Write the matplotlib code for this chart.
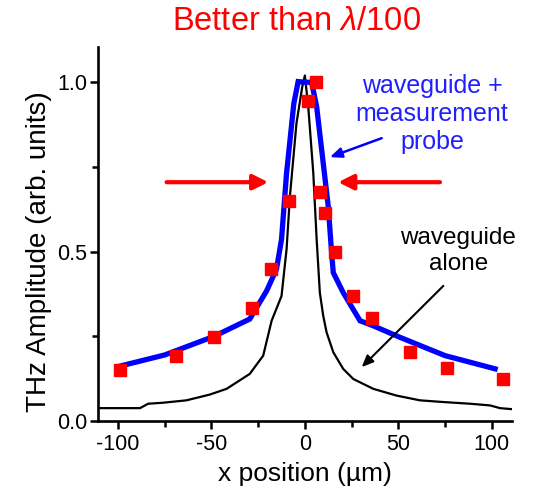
import matplotlib
matplotlib.use('Agg')
import matplotlib.pyplot as plt
from matplotlib.ticker import MultipleLocator

plt.rcParams['font.family'] = ['Liberation Sans', 'DejaVu Sans']
plt.rcParams['mathtext.fontset'] = 'custom'
plt.rcParams['mathtext.it'] = 'Liberation Sans:italic'
plt.rcParams['mathtext.rm'] = 'Liberation Sans'
plt.rcParams['axes.unicode_minus'] = False

# measured points (waveguide + measurement probe), red squares
probe_x = [-98.7, -68.7, -48.6, -28.2, -18.2, -8.4, 1.8, 5.9, 7.9, 10.9,
           16.1, 25.7, 35.9, 56.2, 76.2, 106.2]
probe_y = [0.152, 0.193, 0.247, 0.335, 0.450, 0.649, 0.945, 1.0, 0.676, 0.613,
           0.499, 0.369, 0.303, 0.205, 0.156, 0.124]

# blue curve (waveguide + probe)
fit_x = [-99, -75, -48.6, -29.5, -20.5, -15.2, -12.5, -9.8, -5.9, -3.6, 0,
         3.6, 6.3, 9.8, 12.5, 14.3, 15.2, 20.5, 29.5, 36.6, 50.9, 75, 101.8]
fit_y = [0.162, 0.195, 0.25, 0.301, 0.384, 0.448, 0.536, 0.732, 0.938, 1.002, 1.0,
         1.0, 0.928, 0.762, 0.634, 0.497, 0.438, 0.379, 0.296, 0.281, 0.247, 0.193, 0.154]

# black curve (waveguide alone)
guide_x = [-110.7, -88.2, -83.9, -75.9, -63.4, -50.9, -41.9, -29.5, -22.3, -17.8,
           -12.5, -9.8, -8.0, -4.5, -1.4, 0, 1.8, 4.5, 6.3, 8.0, 9.8, 11.6,
           15.2, 20.5, 25.9, 36.6, 49.1, 61.6, 74.1, 88.4, 99.1, 104.4, 110.7]
guide_y = [0.038, 0.038, 0.051, 0.054, 0.061, 0.078, 0.095, 0.139, 0.193, 0.296,
           0.369, 0.507, 0.664, 0.879, 0.987, 1.02, 0.928, 0.732, 0.536, 0.379, 0.311, 0.262,
           0.203, 0.154, 0.124, 0.095, 0.075, 0.061, 0.056, 0.051, 0.046, 0.038, 0.035]

fig = plt.figure(figsize=(5.37, 4.90), dpi=100)
ax = fig.add_axes([0.1825, 0.1408, 0.7705, 0.7639])

ax.plot(guide_x, guide_y, color='black', lw=1.6, zorder=2)
ax.plot(fit_x, fit_y, color='blue', lw=3.8, zorder=3, solid_joinstyle='miter')
ax.plot(probe_x, probe_y, 's', color='red', ms=8.8, mec='red', zorder=4, clip_on=False)

ax.set_xlim(-110.7, 110.7)
ax.set_ylim(0, 1.105)
ax.xaxis.set_major_locator(MultipleLocator(50))
ax.xaxis.set_minor_locator(MultipleLocator(25))
ax.yaxis.set_major_locator(MultipleLocator(0.5))
ax.yaxis.set_minor_locator(MultipleLocator(0.25))
ax.yaxis.set_major_formatter(plt.FuncFormatter(lambda v, p: f'{v:.1f}'))

for s in ['top', 'right']:
    ax.spines[s].set_visible(False)
for s in ['left', 'bottom']:
    ax.spines[s].set_linewidth(1.9)
ax.tick_params(which='major', direction='out', length=6, width=1.8, labelsize=15.5)
ax.tick_params(which='minor', direction='out', length=4, width=1.8)
ax.tick_params(axis='x', pad=3)
ax.tick_params(axis='y', pad=2)

# arrows
ax.annotate('', xy=(-19.6, 0.705), xytext=(-74, 0.705),
            arrowprops=dict(arrowstyle='-|>,head_length=0.9,head_width=0.45',
                            color='red', lw=3, shrinkA=0, shrinkB=0))
ax.annotate('', xy=(17.8, 0.705), xytext=(72.3, 0.705),
            arrowprops=dict(arrowstyle='-|>,head_length=0.9,head_width=0.45',
                            color='red', lw=3, shrinkA=0, shrinkB=0))
ax.annotate('', xy=(13.4, 0.779), xytext=(41.1, 0.835),
            arrowprops=dict(arrowstyle='-|>,head_length=0.7,head_width=0.3',
                            color='blue', lw=1.8, shrinkA=0, shrinkB=0))
ax.annotate('', xy=(30.4, 0.159), xytext=(74.1, 0.399),
            arrowprops=dict(arrowstyle='-|>,head_length=0.7,head_width=0.3',
                            color='black', lw=1.5, shrinkA=0, shrinkB=0))

ax.text(68, 0.907, 'waveguide +\nmeasurement\nprobe', color='#2020ff',
        fontsize=18, ha='center', va='center', linespacing=1.2)
ax.text(82, 0.502, 'waveguide\nalone', color='black',
        fontsize=17.5, ha='center', va='center', linespacing=1.2)

fig.text(296 / 537, 1 - 21 / 490, r'Better than $\mathit{\lambda}$/100', color='red',
         fontsize=23.5, ha='center', va='center')
fig.text(39 / 537, 1 - 252 / 490, 'THz Amplitude (arb. units)',
         fontsize=20, rotation=90, ha='center', va='center')
fig.text(305 / 537, 1 - 474 / 490, 'x position (µm)',
         fontsize=19, ha='center', va='center')

fig.savefig('out.png', dpi=100)
